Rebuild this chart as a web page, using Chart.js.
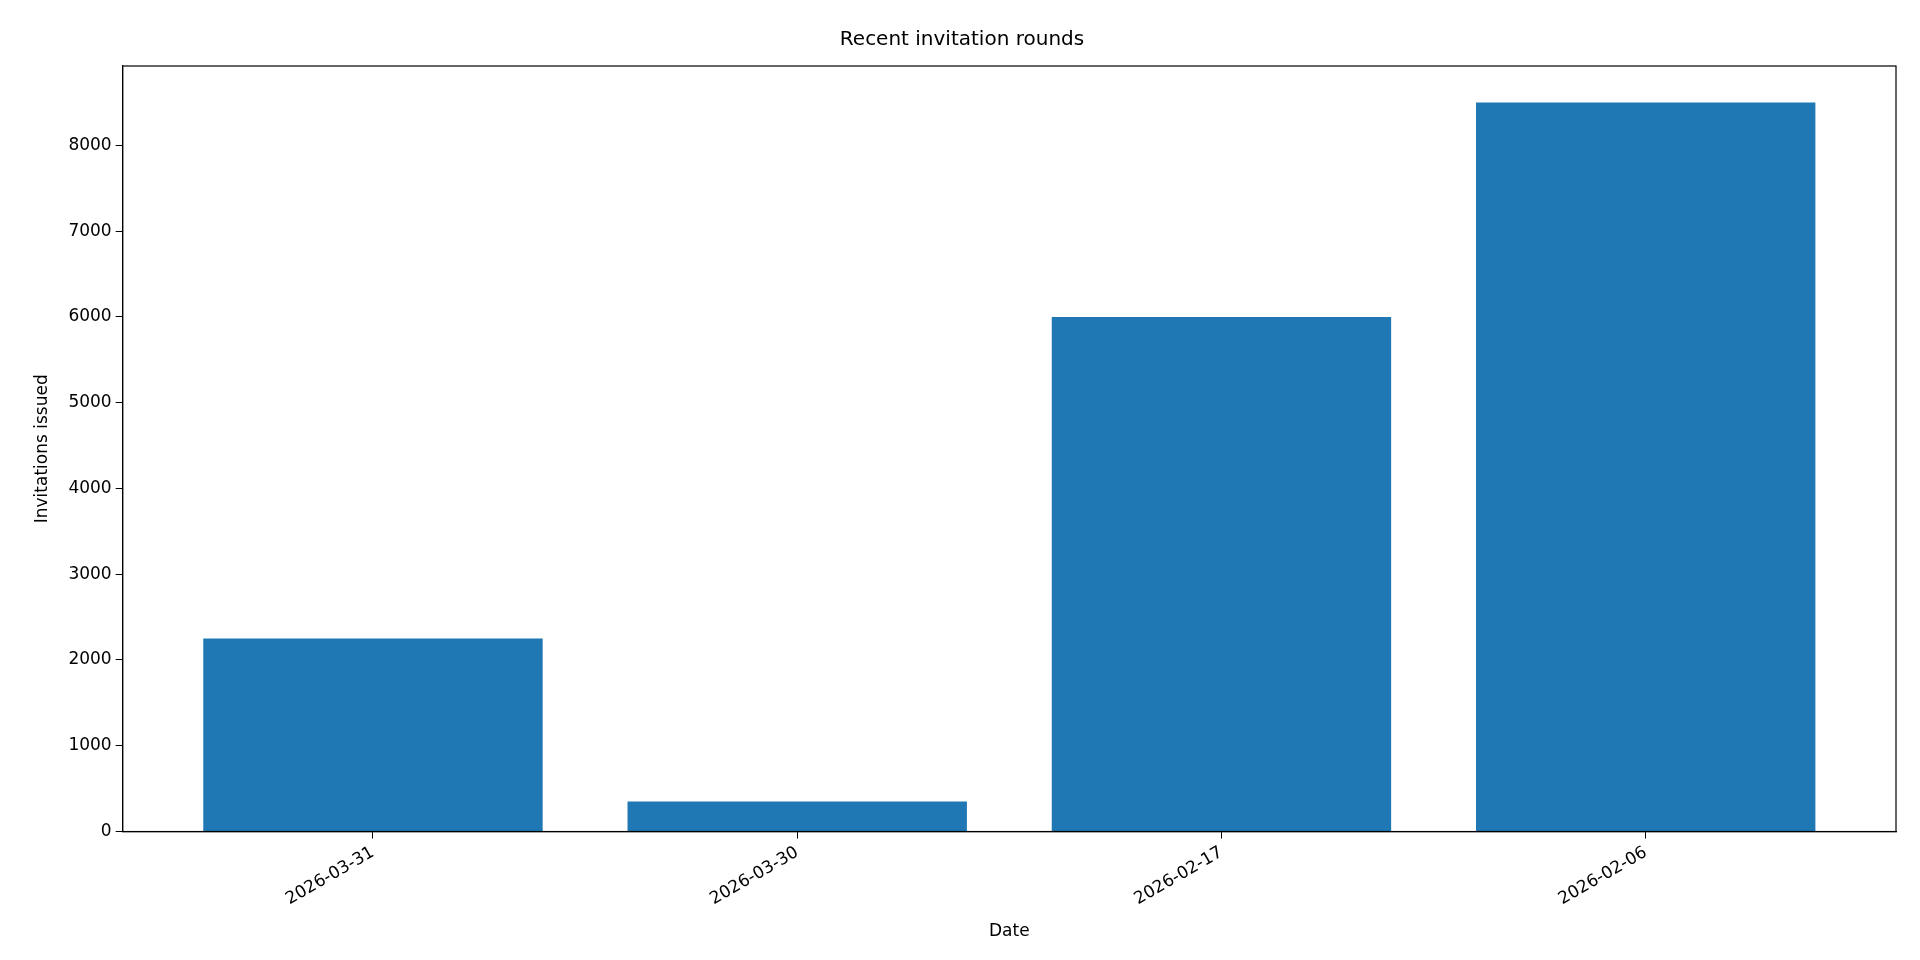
<!DOCTYPE html>
<html>
<head>
<meta charset="utf-8">
<script src="https://cdn.jsdelivr.net/npm/chart.js@4"></script>
<style>
  body { margin: 0; background: #fff; }
  #wrap { width: 1920px; height: 960px; }
</style>
</head>
<body>
<div id="wrap"><canvas id="chart"></canvas></div>
<script>
var dates = ["2026-03-31", "2026-03-30", "2026-02-17", "2026-02-06"];
var invitations = [2250, 350, 6000, 8500];
var yTicks = [0, 1000, 2000, 3000, 4000, 5000, 6000, 7000, 8000];

var points = invitations.map(function (v, i) { return { x: i, y: v }; });

// box around the plot area, like matplotlib
var frame = {
  id: "frame",
  afterDraw: function (chart) {
    var a = chart.chartArea, ctx = chart.ctx;
    ctx.save();
    ctx.strokeStyle = "#000";
    ctx.lineWidth = 1.2;
    ctx.strokeRect(a.left, a.top, a.right - a.left, a.bottom - a.top);
    ctx.restore();
  }
};

Chart.defaults.font.family = "DejaVu Sans";
Chart.defaults.color = "#000";

new Chart(document.getElementById("chart").getContext("2d"), {
  type: "bar",
  data: {
    datasets: [{
      data: points,
      backgroundColor: "#1f77b4",
      categoryPercentage: 1,
      barPercentage: 0.8
    }]
  },
  options: {
    responsive: true,
    maintainAspectRatio: false,
    animation: false,
    layout: { padding: { left: 28, right: 24, top: 18, bottom: 14 } },
    plugins: {
      legend: { display: false },
      tooltip: { enabled: false },
      title: {
        display: true,
        text: "Recent invitation rounds",
        font: { size: 20, weight: "normal" },
        padding: { top: 10, bottom: 14 }
      }
    },
    scales: {
      x: {
        type: "linear",
        min: -0.59,
        max: 3.59,
        offset: false,
        afterBuildTicks: function (axis) {
          axis.ticks = dates.map(function (d, i) { return { value: i }; });
        },
        ticks: {
          callback: function (v) { return dates[v]; },
          maxRotation: 30,
          minRotation: 30,
          font: { size: 17 },
          padding: 4
        },
        grid: { display: true, offset: false, drawOnChartArea: false, tickLength: 7, color: "#000" },
        border: { color: "#000", width: 1.2 },
        title: { display: true, text: "Date", font: { size: 17 }, padding: { top: 8 } }
      },
      y: {
        min: 0,
        max: 8925,
        afterBuildTicks: function (axis) {
          axis.ticks = yTicks.map(function (v) { return { value: v }; });
        },
        ticks: { font: { size: 17 }, padding: 4, callback: function (v) { return String(v); } },
        grid: { display: true, drawOnChartArea: false, tickLength: 7, color: "#000" },
        border: { color: "#000", width: 1.2 },
        title: { display: true, text: "Invitations issued", font: { size: 17 }, padding: { bottom: 12 } }
      }
    }
  },
  plugins: [frame]
});
</script>
</body>
</html>
